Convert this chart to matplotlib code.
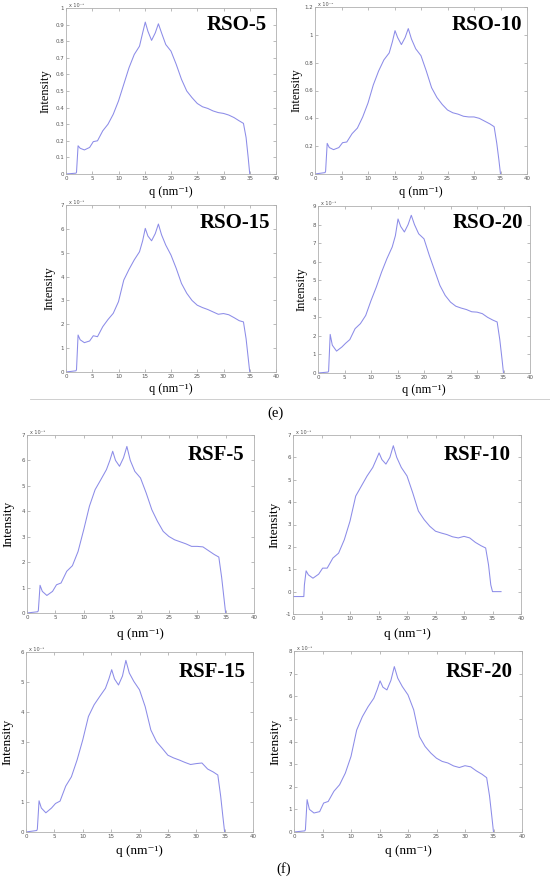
import numpy as np
import matplotlib
matplotlib.use("Agg")
import matplotlib.pyplot as plt
from matplotlib.ticker import FuncFormatter

# shared q grid (nm^-1)
q = [0, 1.9, 2.0, 2.3, 2.7, 3.5, 4.5, 5.2, 6, 7, 8, 9, 10, 11, 12, 13, 14, 14.6,
     15.1, 15.6, 16.3, 17.0, 17.6, 18.2, 19, 20, 21, 22, 23, 24, 25, 26, 27, 28,
     29, 30, 31, 32, 33, 33.8, 34.3, 34.7, 35.0]

rso5 = [0, 0.005, 0.01, 0.17, 0.155, 0.145, 0.16, 0.195, 0.2, 0.26, 0.30, 0.36, 0.44,
        0.54, 0.64, 0.72, 0.77, 0.85, 0.915, 0.86, 0.805, 0.85, 0.905, 0.85, 0.78,
        0.74, 0.66, 0.57, 0.50, 0.46, 0.425, 0.405, 0.395, 0.38, 0.37, 0.365, 0.355,
        0.34, 0.32, 0.305, 0.22, 0.10, 0.0]
rso10 = [0, 0.01, 0.02, 0.22, 0.19, 0.175, 0.19, 0.225, 0.23, 0.29, 0.33, 0.41, 0.51,
         0.64, 0.74, 0.82, 0.87, 0.95, 1.03, 0.98, 0.93, 0.98, 1.045, 0.97, 0.90,
         0.85, 0.74, 0.62, 0.55, 0.50, 0.46, 0.44, 0.43, 0.415, 0.41, 0.41, 0.40,
         0.38, 0.36, 0.34, 0.22, 0.10, 0.0]
rso15 = [0, 0.05, 0.1, 1.55, 1.35, 1.23, 1.3, 1.52, 1.48, 1.9, 2.2, 2.46, 2.95, 3.85,
         4.3, 4.7, 5.04, 5.5, 6.02, 5.7, 5.5, 5.8, 6.2, 5.75, 5.32, 4.9, 4.34, 3.71,
         3.3, 3.0, 2.8, 2.7, 2.62, 2.52, 2.42, 2.45, 2.4, 2.28, 2.15, 2.1, 1.4, 0.6, 0.0]
rso20 = [0, 0.05, 0.1, 2.08, 1.5, 1.18, 1.4, 1.6, 1.8, 2.39, 2.66, 3.1, 3.9, 4.63,
         5.44, 6.16, 6.79, 7.4, 8.3, 7.9, 7.6, 8.0, 8.5, 8.0, 7.5, 7.23, 6.34, 5.53,
         4.72, 4.18, 3.82, 3.6, 3.5, 3.42, 3.3, 3.28, 3.2, 3.0, 2.85, 2.75, 1.8, 0.8, 0.0]
rsf5 = [0, 0.05, 0.1, 1.09, 0.85, 0.69, 0.85, 1.11, 1.18, 1.64, 1.86, 2.42, 3.28, 4.2,
        4.85, 5.24, 5.64, 6.0, 6.36, 6.0, 5.77, 6.1, 6.55, 6.0, 5.57, 5.31, 4.72, 4.06,
        3.6, 3.21, 3.01, 2.88, 2.8, 2.72, 2.62, 2.62, 2.6, 2.45, 2.3, 2.2, 1.4, 0.6, 0.0]
rsf10 = [-0.22, -0.22, 0.3, 0.93, 0.75, 0.6, 0.78, 1.05, 1.05, 1.5, 1.72, 2.32, 3.15,
         4.27, 4.72, 5.17, 5.55, 5.9, 6.2, 5.9, 5.7, 6.0, 6.52, 6.0, 5.55, 5.17, 4.42,
         3.6, 3.22, 2.92, 2.7, 2.62, 2.55, 2.45, 2.4, 2.47, 2.4, 2.2, 2.05, 1.95, 1.2,
         0.3, 0.0]
rsf10_tail_q = [36.5]
rsf10_tail = [0.0]
rsf15 = [0, 0.05, 0.1, 1.04, 0.8, 0.64, 0.8, 0.95, 1.03, 1.53, 1.84, 2.4, 3.07, 3.85,
         4.24, 4.52, 4.79, 5.1, 5.41, 5.1, 4.9, 5.2, 5.72, 5.3, 5.02, 4.74, 4.18, 3.4,
         3.01, 2.79, 2.56, 2.47, 2.4, 2.32, 2.25, 2.28, 2.3, 2.1, 2.0, 1.9, 1.2, 0.5, 0.0]
rsf20 = [0, 0.05, 0.1, 1.43, 1.0, 0.84, 0.9, 1.28, 1.35, 1.8, 2.09, 2.6, 3.34, 4.51,
         5.1, 5.54, 5.91, 6.3, 6.68, 6.4, 6.28, 6.7, 7.31, 6.8, 6.43, 6.06, 5.4, 4.22,
         3.78, 3.49, 3.26, 3.12, 3.05, 2.92, 2.85, 2.93, 2.88, 2.7, 2.55, 2.4, 1.6, 0.7, 0.0]

names = ["RSO-5", "RSO-10", "RSO-15", "RSO-20", "RSF-5", "RSF-10", "RSF-15", "RSF-20"]
series = [rso5, rso10, rso15, rso20, rsf5, rsf10, rsf15, rsf20]
ylims = [(0, 1), (0, 1.2), (0, 7), (0, 9), (0, 7), (-1, 7), (0, 6), (0, 8)]
ysteps = [0.1, 0.2, 1, 1, 1, 1, 1, 1]
mults = ["x 10⁻³", "x 10⁻⁴", "x 10⁻⁵", "x 10⁻⁵",
         "x 10⁻⁵", "x 10⁻⁵", "x 10⁻⁵", "x 10⁻⁵"]

# axes boxes in pixels: left, top, right, bottom (figure is 550 x 881)
boxes = [(66, 8, 276, 174), (315, 7, 527, 174),
         (66, 205, 276, 372), (318, 206, 530, 373),
         (27, 435, 254, 613), (293, 435, 521, 614),
         (26, 652, 253, 832), (294, 651, 522, 832)]
ylab_x = [-0.067, -0.061, -0.052, -0.047, -0.053, -0.053, -0.053, -0.053]
xlab_y = [-0.07, -0.07, -0.066, -0.066, -0.082, -0.08, -0.072, -0.072]
lab_size = [9, 9, 9, 9, 9.5, 9.5, 9.5, 9.5]
title_xy = [(0.957, 0.898), (0.976, 0.89), (0.971, 0.89), (0.967, 0.90),
            (0.956, 0.89), (0.956, 0.89), (0.969, 0.89), (0.96, 0.884)]

W, H = 550, 881
fig = plt.figure(figsize=(W / 100, H / 100), dpi=100)
serif = ["Liberation Serif", "DejaVu Serif"]
line_col = "#8c8ce8"
frame_col = "#b0b0b0"

for i in range(8):
    l, t, r, b = boxes[i]
    ax = fig.add_axes([l / W, 1 - b / H, (r - l) / W, (b - t) / H])
    qq = list(q)
    yy = list(series[i])
    if names[i] == "RSF-10":
        qq = qq + rsf10_tail_q
        yy = yy + rsf10_tail
    ax.plot(qq, yy, color=line_col, lw=0.75)
    ax.set_xlim(0, 40)
    ax.set_ylim(*ylims[i])
    ax.set_xticks(np.arange(0, 41, 5))
    ax.set_yticks(np.arange(ylims[i][0], ylims[i][1] + ysteps[i] / 2, ysteps[i]))
    ax.yaxis.set_major_formatter(FuncFormatter(lambda v, p: "%g" % round(v, 3)))
    ax.tick_params(direction="in", length=2, width=0.4, labelsize=4,
                   labelcolor="#555555", color="#888888", pad=1.5,
                   top=True, right=True)
    for s in ax.spines.values():
        s.set_color(frame_col)
        s.set_linewidth(0.6)
    ax.text(0.0, 1.0, "  " + mults[i], transform=ax.transAxes, fontsize=3.5,
            color="#555555", va="bottom", ha="left", family=["DejaVu Sans"])
    ax.set_ylabel("Intensity", family=serif, fontsize=lab_size[i])
    ax.yaxis.set_label_coords(ylab_x[i], 0.5)
    ax.set_xlabel("q (nm⁻¹)", family=serif, fontsize=lab_size[i])
    ax.xaxis.set_label_coords(0.5, xlab_y[i])
    ax.text(title_xy[i][0], title_xy[i][1], names[i], transform=ax.transAxes,
            family=serif, fontsize=15, fontweight="bold", ha="right", va="center")

# separator and panel letters
fig.add_artist(plt.Line2D([30 / W, 1.0], [1 - 399 / H, 1 - 399 / H],
                          color="#c8c8c8", lw=0.6))
fig.text(275 / W, 1 - 413 / H, "(e)", family=serif, fontsize=10.5,
         ha="center", va="center")
fig.text(284 / W, 1 - 869 / H, "(f)", family=serif, fontsize=10.5,
         ha="center", va="center")

fig.savefig("out.png", dpi=100)
